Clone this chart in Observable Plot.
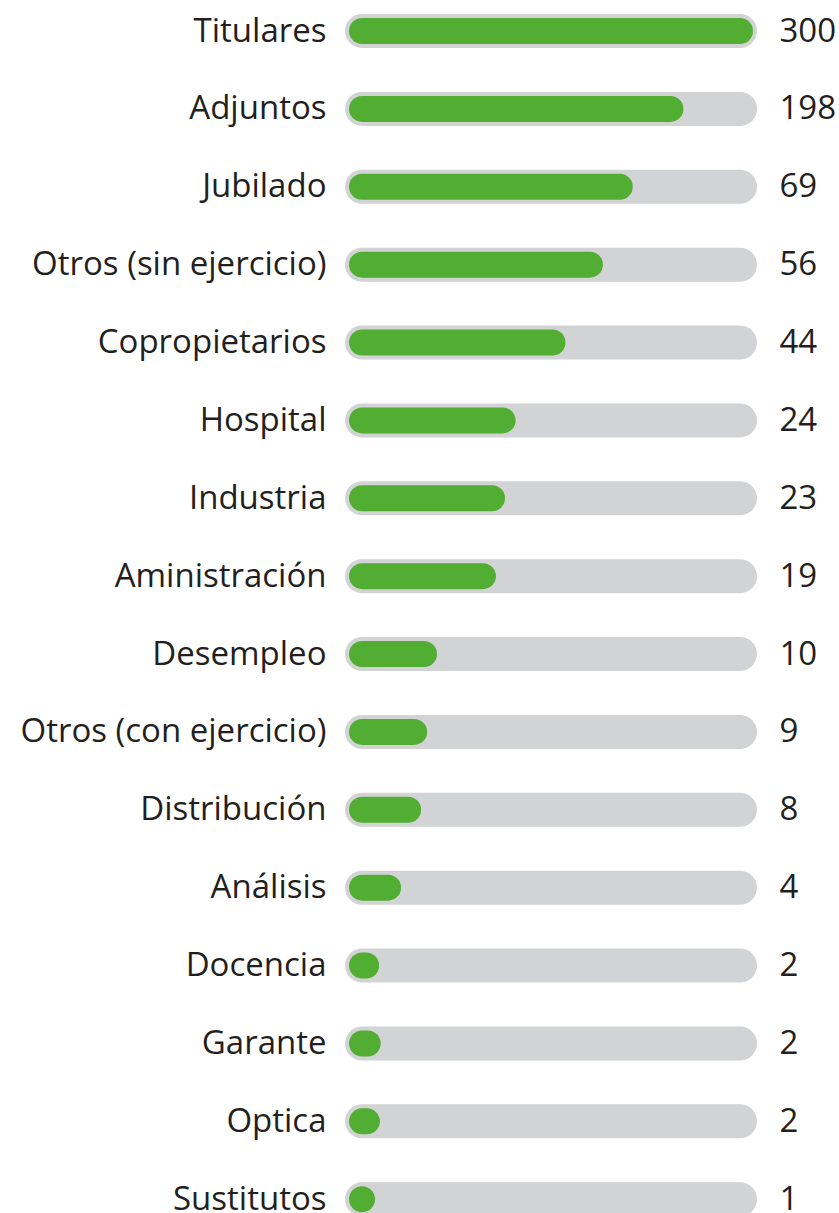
<!DOCTYPE html>
<html><head>
<meta charset="utf-8">
<script src="https://cdn.jsdelivr.net/npm/d3@7"></script>
<script src="https://cdn.jsdelivr.net/npm/@observablehq/plot@0.6"></script>
<style>
  html, body { margin: 0; padding: 0; background: #ffffff; }
  #chart svg { display: block; }
</style>
</head><body>
<div id="chart"></div>
<script>
// Categories (top to bottom)
const categories = [
  "Titulares", "Adjuntos", "Jubilado", "Otros (sin ejercicio)", "Copropietarios",
  "Hospital", "Industria", "Aministración", "Desempleo", "Otros (con ejercicio)",
  "Distribución", "Análisis", "Docencia", "Garante", "Optica", "Sustitutos"
];
// Values shown at the right of each bar
const values = [300, 198, 69, 56, 44, 24, 23, 19, 10, 9, 8, 4, 2, 2, 2, 1];
// Filled share of each track (0–100)
const fillShare = [100, 81.6, 68.2, 60.3, 50.4, 37.2, 34.4, 32.0, 16.4, 13.8, 12.2, 6.9, 1.1, 1.5, 1.3, 0];

const rows = categories.map((c, i) => ({ cat: c, value: values[i], share: fillShare[i] }));

const textColor = "#231f20";
const chart = Plot.plot({
  width: 839,
  height: 1213,
  style: { fontFamily: "'Open Sans', sans-serif", background: "#ffffff", color: textColor },
  x: { domain: [0, 100], range: [362, 740], axis: null },
  y: { type: "point", domain: categories, range: [30.5, 1198.7], padding: 0, round: false, axis: null },
  marks: [
    // grey track
    Plot.ruleY(rows, { y: "cat", x1: 0, x2: 100, stroke: "#d1d3d4", strokeWidth: 34, strokeLinecap: "round" }),
    // green fill
    Plot.ruleY(rows, { y: "cat", x1: 0, x2: "share", stroke: "#52ae32", strokeWidth: 26, strokeLinecap: "round" }),
    // category labels
    Plot.text(rows, { y: "cat", x: 0, dx: -36, text: "cat", textAnchor: "end", fontSize: 33, fill: textColor }),
    // value labels
    Plot.text(rows, { y: "cat", x: 100, dx: 39, text: d => String(d.value), textAnchor: "start", fontSize: 33, fill: textColor })
  ]
});
document.getElementById("chart").appendChild(chart);
</script>
</body></html>
